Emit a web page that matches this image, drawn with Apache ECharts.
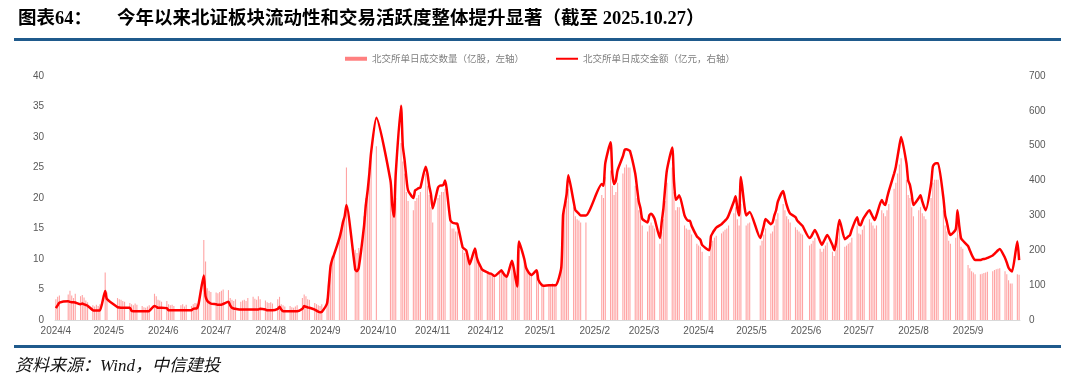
<!DOCTYPE html>
<html><head><meta charset="utf-8">
<script src="https://cdn.jsdelivr.net/npm/echarts@6/dist/echarts.min.js"></script>
<style>html,body{margin:0;padding:0;background:#fff}#c{width:1080px;height:387px}</style>
</head><body><div id="c"></div>
<script>
// ---- data ----
const startDate = '2024-04-01';
const endDate = '2025-09-30';
const holidays = ['2024-04-04','2024-04-05','2024-05-01','2024-05-02','2024-05-03','2024-06-10',
  '2024-09-16','2024-09-17','2024-10-01','2024-10-02','2024-10-03','2024-10-04','2024-10-07',
  '2025-01-01','2025-01-28','2025-01-29','2025-01-30','2025-01-31','2025-02-03','2025-02-04',
  '2025-04-04','2025-05-01','2025-05-02','2025-05-05','2025-06-02'];
const barName = '北交所单日成交数量（亿股，左轴）';
const lineName = '北交所单日成交金额（亿元，右轴）';
const leftTicks = [0, 40, 5];
const rightTicks = [0, 700, 100];
// 成交金额 (亿元), one value per trading day, month by month
const amountValues = [
  34,42,50,54,52,51,51,50,45,47,45,43,41,28,27,27,27,27,83,60,
  37,36,35,35,35,35,26,25,25,25,25,25,25,25,26,40,38,35,35,35,
  34,28,28,28,28,28,28,28,28,28,32,33,33,45,128,68,55,50,47,
  45,44,44,44,46,52,42,35,33,32,30,30,30,30,30,30,30,30,30,32,30,28,28,
  28,28,32,38,30,25,25,25,25,25,25,25,32,40,38,36,35,30,27,24,22,23,
  48,100,155,175,188,235,255,280,298,330,145,140,150,270,330,370,420,480,580,
  400,330,296,420,615,500,460,410,372,350,372,375,378,380,440,420,385,360,
  320,380,385,386,387,400,287,280,278,277,276,208,204,200,180,160,205,180,165,155,145,
  137,134,133,130,126,138,143,135,128,124,170,150,120,96,225,175,150,140,133,129,143,115,
  100,98,100,100,100,100,100,150,300,330,360,415,340,315,310,305,300,300,
  390,385,450,510,420,390,400,430,470,488,490,488,485,420,380,340,320,290,
  280,300,305,300,290,235,280,320,380,430,495,400,345,350,358,300,290,285,285,270,240,
  235,230,215,200,240,250,258,265,275,280,285,290,300,340,355,320,300,410,300,305,310,
  235,250,270,290,275,280,300,315,340,370,350,330,315,305,295,285,280,275,270,
  235,240,250,258,225,215,225,235,244,215,200,220,260,287,232,235,240,244,260,295,
  275,272,285,295,315,305,295,287,300,344,335,330,350,370,420,440,470,500,525,450,400,387,360,
  330,350,358,340,325,315,390,440,448,450,450,350,300,280,255,244,260,315,270,235,228,
  212,200,188,178,172,172,174,175,176,178,185,190,195,200,204,178,165,150,143,139,225,172
];
// 成交数量 (亿股), one value per trading day, month by month
const volumeValues = [
  3.4,3.8,4.0,4.2,4.8,4.0,3.6,4.3,3.9,4.1,3.7,3.2,2.9,2.4,2.2,2.5,2.3,2.6,7.8,4.5,
  3.6,3.4,3.3,3.1,3.0,2.8,2.6,2.4,2.7,2.5,2.3,2.1,2.0,2.2,2.4,4.3,3.9,3.3,3.2,3.0,
  3.1,2.6,2.4,2.5,2.3,2.4,2.6,2.2,2.5,2.3,2.6,2.8,2.7,3.2,13.1,9.6,5.2,4.8,4.6,
  4.5,4.4,4.6,4.8,5.0,4.9,3.6,3.3,3.1,3.4,3.0,3.2,3.3,3.1,3.6,3.8,3.5,3.3,3.9,3.4,3.2,2.9,2.8,
  2.9,2.7,3.4,3.8,2.6,2.4,2.2,2.3,2.1,2.0,2.2,2.4,3.6,4.2,3.9,3.4,3.3,2.8,2.6,2.4,2.3,2.6,
  3.5,6.0,8.5,10.5,11.0,13.5,14.5,16.0,17.0,25.0,11.5,11.0,11.8,17.0,20.0,22.0,25.0,27.5,28.5,
  22.0,19.0,17.5,20.0,29.0,26.0,24.0,21.0,19.5,18.0,19.5,20.0,20.5,21.0,24.0,22.0,20.5,18.5,
  16.0,20.0,20.5,21.0,21.0,21.5,16.0,15.0,15.0,14.5,14.5,11.5,11.0,11.0,10.0,9.0,11.5,10.0,9.0,8.5,8.0,
  7.8,7.5,7.4,7.2,7.0,7.8,8.0,7.6,7.2,7.0,9.5,8.5,6.8,5.8,11.5,9.5,8.5,8.0,7.5,7.2,8.0,6.5,
  6.0,5.8,5.8,5.9,6.0,5.7,5.8,8.5,16.5,18.0,19.5,21.5,18.5,17.0,16.5,16.3,16.0,16.0,
  20.5,20.0,23.5,24.5,22.0,20.5,21.0,22.5,24.0,25.0,25.5,25.0,25.0,22.0,20.0,18.0,17.0,15.5,
  14.5,15.5,16.0,15.5,15.0,12.5,14.5,16.5,19.5,22.5,25.0,21.0,18.0,18.5,18.5,15.5,15.0,14.8,14.8,14.0,12.5,
  12.2,12.0,11.2,10.5,12.5,13.0,13.5,13.8,14.2,14.5,14.8,15.0,15.5,17.5,18.5,16.5,15.5,19.0,15.5,15.8,16.0,
  12.2,13.0,14.0,15.0,14.2,14.5,15.5,16.5,17.5,19.0,18.0,17.0,16.5,16.0,15.2,14.8,14.5,14.2,14.0,
  12.2,12.5,13.0,13.5,11.7,11.2,11.7,12.2,12.7,11.2,10.5,11.5,13.5,15.0,12.0,12.2,12.5,12.7,13.5,15.5,
  14.2,14.0,14.8,15.5,16.5,16.0,15.5,15.0,15.5,18.0,17.5,17.0,18.0,19.0,21.5,22.5,24.0,25.5,26.5,23.0,20.5,20.0,18.5,
  17.0,18.0,18.5,17.5,17.0,16.5,20.0,22.5,23.0,23.0,23.0,18.0,15.5,14.5,13.0,12.5,13.5,16.5,14.0,12.0,11.7,
  9.0,8.5,8.0,7.8,7.5,7.5,7.6,7.7,7.8,7.9,8.0,8.2,8.3,8.4,8.5,8.0,7.5,6.5,6.0,6.0,7.5,7.4
];

// ---- build calendar categories (all days) and trading-day mapping ----
function fmt(d){ return d.toISOString().slice(0,10); }
const categories = [];
for (let d = new Date(startDate + 'T00:00:00Z'); fmt(d) <= endDate; d.setUTCDate(d.getUTCDate()+1)) categories.push(fmt(d));
const tradingDays = categories.filter(s => { const w = new Date(s + 'T00:00:00Z').getUTCDay(); return w !== 0 && w !== 6 && holidays.indexOf(s) < 0; });
const tIndex = {}; tradingDays.forEach((s, i) => tIndex[s] = i);
const barData = categories.map(s => (s in tIndex && volumeValues[tIndex[s]] != null) ? volumeValues[tIndex[s]] : null);
const lineData = categories.map(s => (s in tIndex && amountValues[tIndex[s]] != null) ? amountValues[tIndex[s]] : null);

const axisLabelStyle = { color: '#595959', fontSize: 10, fontFamily: '"Liberation Sans", Arial, sans-serif' };
const chart = echarts.init(document.getElementById('c'), null, { renderer: 'canvas' });
chart.setOption({
  animation: false,
  backgroundColor: '#fff',
  grid: { left: 55, right: 60, top: 76, bottom: 67, containLabel: false },
  legend: {
    top: 49, left: 'center', itemGap: 32, itemWidth: 22, itemHeight: 4,
    textStyle: { color: '#7f7f7f', fontSize: 9.5, fontFamily: '"Noto Sans CJK SC", sans-serif' },
    data: [
      { name: barName, icon: 'rect', itemStyle: { color: '#FF8080' } },
      { name: lineName, icon: 'path://M0,0H22V2H0Z', itemStyle: { color: '#FF0000' } }
    ]
  },
  xAxis: {
    type: 'category', data: categories, boundaryGap: true,
    axisLine: { show: true, lineStyle: { color: '#d9d9d9', width: 1 } },
    axisTick: { show: false },
    axisLabel: Object.assign({
      margin: 6,
      interval: (i, v) => v.slice(8) === '01',
      formatter: v => v.slice(0,4) + '/' + (+v.slice(5,7))
    }, axisLabelStyle),
    splitLine: { show: false }
  },
  yAxis: [
    { type: 'value', min: leftTicks[0], max: leftTicks[1], interval: leftTicks[2],
      axisLine: { show: false }, axisTick: { show: false }, splitLine: { show: false },
      axisLabel: Object.assign({ margin: 11 }, axisLabelStyle) },
    { type: 'value', min: rightTicks[0], max: rightTicks[1], interval: rightTicks[2],
      axisLine: { show: false }, axisTick: { show: false }, splitLine: { show: false },
      axisLabel: Object.assign({ margin: 9 }, axisLabelStyle) }
  ],
  series: [
    { name: barName, type: 'bar', yAxisIndex: 0, data: barData, barWidth: 1.1,
      itemStyle: { color: '#FFA3A3' }, z: 1 },
    { name: lineName, type: 'line', yAxisIndex: 1, data: lineData, connectNulls: true,
      smooth: 0.2, symbol: 'none', lineStyle: { color: '#FF0000', width: 2.5 },
      itemStyle: { color: '#FF0000' }, z: 3 }
  ],
  graphic: [
    { type: 'text', left: 18, top: 10, style: { text: '图表64：', fill: '#000',
      font: 'bold 18.5px "Liberation Serif", "Noto Sans CJK SC", serif' } },
    { type: 'text', left: 117, top: 10, style: { text: '今年以来北证板块流动性和交易活跃度整体提升显著（截至 2025.10.27）', fill: '#000',
      font: 'bold 18.5px "Liberation Serif", "Noto Sans CJK SC", serif' } },
    { type: 'rect', shape: { x: 14, y: 38, width: 1047, height: 3 }, style: { fill: '#1F5A8C' } },
    { type: 'rect', shape: { x: 14, y: 345, width: 1047, height: 3 }, style: { fill: '#1F5A8C' } },
    { type: 'text', left: 15, top: 358, style: { text: '资料来源：Wind，中信建投', fill: '#111',
      font: 'italic 17px "Liberation Serif", "Noto Sans CJK SC", serif' } }
  ]
});
</script></body></html>
